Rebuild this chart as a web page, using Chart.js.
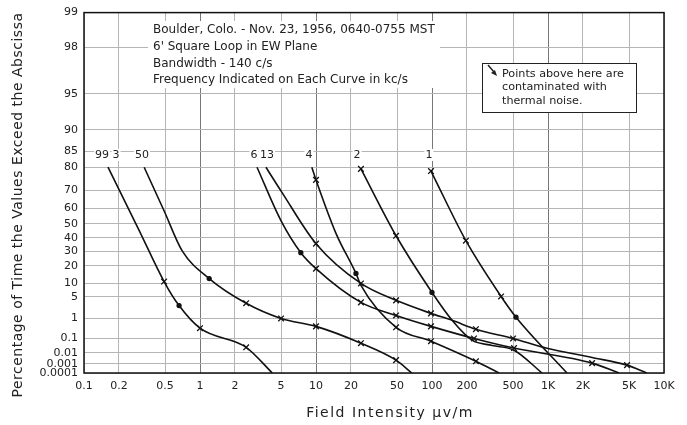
<!doctype html>
<html>
<head>
<meta charset="utf-8">
<title>Field Intensity Distributions - Boulder 1956</title>
<script src="https://cdn.jsdelivr.net/npm/chart.js"></script>
<style>
    body { margin: 0; background: #fff; }
    #wrap { width: 687px; height: 425px; }
</style>
</head>
<body>
<div id="wrap"><canvas id="chart" width="687" height="425"></canvas></div>
<script>
// Axis ticks
var xTicks = [0.1, 0.2, 0.5, 1, 2, 5, 10, 20, 50, 100, 200, 500, 1000, 2000, 5000, 10000];
var xTickLabels = ['0.1', '0.2', '0.5', '1', '2', '5', '10', '20', '50', '100', '200', '500', '1K', '2K', '5K', '10K'];
var yTicks = [0.0001, 0.001, 0.01, 0.1, 1, 5, 10, 20, 30, 40, 50, 60, 70, 80, 85, 90, 95, 98, 99];

// Curves: field intensity (uv/m) and percentage of time exceeded, marks: x = cross, o = dot
var c99x = [0.161, 0.30, 0.49, 0.66, 1.0, 2.5, 4.2];
var c99p = [80, 45, 11.0, 2.8, 0.36, 0.026, 0.0001];
var c99m = ['', '', 'x', 'o', 'x', 'x', ''];

var c50x = [0.33, 0.49, 0.70, 1.2, 2.5, 5, 10, 24.4, 49, 67];
var c50p = [80, 58.6, 30.5, 12.5, 3.3, 0.98, 0.44, 0.05, 0.0023, 0.0001];
var c50m = ['', '', '', 'o', 'x', 'x', 'x', 'x', 'x', ''];

var c6x = [3.1, 5, 7.4, 10, 24.4, 49, 98, 230, 509, 2400, 4100];
var c6p = [80, 52, 29, 18.2, 3.5, 1.28, 0.44, 0.10, 0.023, 0.0012, 0.0001];
var c6m = ['', '', 'o', 'x', 'x', 'x', 'x', 'x', 'x', 'x', ''];

var c13x = [3.7, 5.1, 10, 24.4, 49, 98, 149, 239, 500, 961, 2400, 4800, 7100];
var c13p = [80, 69, 35.6, 10.1, 4.0, 1.53, 0.82, 0.32, 0.10, 0.023, 0.004, 0.00075, 0.0001];
var c13m = ['', '', 'x', 'x', 'x', 'x', '', 'x', 'x', '', '', 'x', ''];

var c4x = [9.2, 10, 14.9, 22.1, 24.4, 49, 98, 239, 378];
var c4p = [80, 75, 43, 15.3, 9.2, 0.40, 0.067, 0.0018, 0.0001];
var c4m = ['', 'x', '', 'o', '', 'x', 'x', 'x', ''];

var c2x = [24.4, 49, 100, 149, 221, 330, 509, 888];
var c2p = [79.4, 41.4, 6.4, 0.82, 0.078, 0.035, 0.016, 0.0001];
var c2m = ['x', 'x', 'o', '', '', '', '', ''];

var c1x = [98, 196, 394, 530, 1458];
var c1p = [78.6, 37.8, 5.1, 1.1, 0.0001];
var c1m = ['x', 'x', 'x', 'o', ''];

// Frequency labels (kc/s) written at the top of each curve
var freqText = ['99', '3', '50', '6', '13', '4', '2', '1'];
var freqX = [0.143, 0.189, 0.316, 2.92, 3.78, 8.7, 22.6, 94];
var freqP = 84;

var noteLines = ['Boulder, Colo. - Nov. 23, 1956, 0640-0755 MST', "6' Square Loop in EW Plane",
    'Bandwidth - 140 c/s', 'Frequency Indicated on Each Curve in kc/s'];
var noiseLines = ['Points above here are', 'contaminated with', 'thermal noise.'];

var FONT = '"DejaVu Sans", sans-serif';

// Rayleigh-paper ordinate: linear in log(-ln(P))
function ry(p) { return -Math.log10(-Math.log(p / 100)); }

function curve(xs, ps, marks) {
    var pts = [];
    for (var i = 0; i < xs.length; i++) pts.push({ x: xs[i], y: ry(ps[i]) });
    return {
        data: pts,
        borderColor: '#111',
        backgroundColor: '#111',
        borderWidth: 1.6,
        tension: 0.4,
        cubicInterpolationMode: 'monotone',
        pointStyle: function (c) { return marks[c.dataIndex] == 'o' ? 'circle' : 'crossRot'; },
        pointRadius: function (c) { var m = marks[c.dataIndex]; return m == 'x' ? 4 : (m == 'o' ? 2 : 0); },
        pointBorderWidth: 1.3,
    };
}

var extras = {
    id: 'extras',
    afterDraw: function (chart) {
        var ctx = chart.ctx, a = chart.chartArea, sx = chart.scales.x, sy = chart.scales.y;
        ctx.save();
        // frame
        ctx.strokeStyle = '#111';
        ctx.lineWidth = 1.5;
        ctx.strokeRect(a.left, a.top, a.right - a.left, a.bottom - a.top);

        // header note
        ctx.fillStyle = '#fff';
        ctx.fillRect(148, 21, 292, 67);
        ctx.fillStyle = '#222';
        ctx.font = '12px ' + FONT;
        ctx.textBaseline = 'middle';
        ctx.textAlign = 'left';
        for (var i = 0; i < noteLines.length; i++) ctx.fillText(noteLines[i], 153, 30 + i * 16.7);

        // thermal noise box
        ctx.fillStyle = '#fff';
        ctx.fillRect(482, 63, 154, 49);
        ctx.strokeStyle = '#222';
        ctx.lineWidth = 1;
        ctx.strokeRect(482.5, 63.5, 154, 49);
        ctx.fillStyle = '#222';
        ctx.font = '11.2px ' + FONT;
        for (var j = 0; j < noiseLines.length; j++) ctx.fillText(noiseLines[j], 502, 74 + j * 13.5);
        ctx.lineWidth = 1.5;
        ctx.beginPath(); ctx.moveTo(488, 65); ctx.lineTo(494, 72); ctx.stroke();
        ctx.beginPath(); ctx.moveTo(497, 76); ctx.lineTo(491, 73); ctx.lineTo(495, 70); ctx.closePath(); ctx.fill();

        // frequency labels
        ctx.font = '11px ' + FONT;
        ctx.textAlign = 'center';
        ctx.textBaseline = 'middle';
        for (var k = 0; k < freqText.length; k++) {
            var px = sx.getPixelForValue(freqX[k]), py = sy.getPixelForValue(ry(freqP));
            ctx.fillStyle = '#fff';
            var w = ctx.measureText(freqText[k]).width;
            ctx.fillRect(px - w / 2 - 1, py - 6, w + 2, 12);
            ctx.fillStyle = '#222';
            ctx.fillText(freqText[k], px, py);
        }

        // axis titles
        ctx.font = '14px ' + FONT;
        ctx.fillStyle = '#222';
        ctx.letterSpacing = '1.5px';
        ctx.fillText('Field Intensity \u03bcv/m', 390, 413);
        ctx.letterSpacing = '0.5px';
        ctx.translate(18, 205);
        ctx.rotate(-Math.PI / 2);
        ctx.fillText('Percentage of Time the Values Exceed the Abscissa', 0, 0);
        ctx.restore();
    }
};

var chart = new Chart(document.getElementById('chart').getContext('2d'), {
    type: 'line',
    data: {
        datasets: [
            curve(c99x, c99p, c99m),
            curve(c50x, c50p, c50m),
            curve(c6x, c6p, c6m),
            curve(c13x, c13p, c13m),
            curve(c4x, c4p, c4m),
            curve(c2x, c2p, c2m),
            curve(c1x, c1p, c1m),
        ]
    },
    options: {
        responsive: false,
        animation: false,
        layout: { padding: { left: 0, right: 23, top: 11, bottom: 0 } },
        plugins: { legend: { display: false }, tooltip: { enabled: false } },
        scales: {
            x: {
                type: 'logarithmic',
                min: 0.1,
                max: 10000,
                afterBuildTicks: function (s) { s.ticks = xTicks.map(function (v) { return { value: v }; }); },
                afterFit: function (s) { s.height = 52; },
                grid: {
                    drawTicks: false,
                    lineWidth: 1,
                    color: function (c) { var v = c.tick ? c.tick.value : 0; return [1, 10, 100, 1000].indexOf(v) >= 0 ? '#777' : '#b5b5b5'; }
                },
                border: { display: false },
                ticks: {
                    autoSkip: false,
                    maxRotation: 0,
                    padding: 7,
                    color: '#222',
                    font: { family: FONT, size: 11 },
                    callback: function (v, i) { return xTickLabels[i]; }
                }
            },
            y: {
                type: 'linear',
                min: ry(0.0001),
                max: ry(99),
                afterBuildTicks: function (s) { s.ticks = yTicks.map(function (p) { return { value: ry(p) }; }); },
                afterFit: function (s) { s.width = 84; },
                grid: { drawTicks: false, color: '#b5b5b5', lineWidth: 1 },
                border: { display: false },
                ticks: {
                    autoSkip: false,
                    padding: 6,
                    color: '#222',
                    font: { family: FONT, size: 11 },
                    callback: function (v, i) { return String(yTicks[i]); }
                }
            }
        }
    },
    plugins: [extras]
});
</script>
</body>
</html>
